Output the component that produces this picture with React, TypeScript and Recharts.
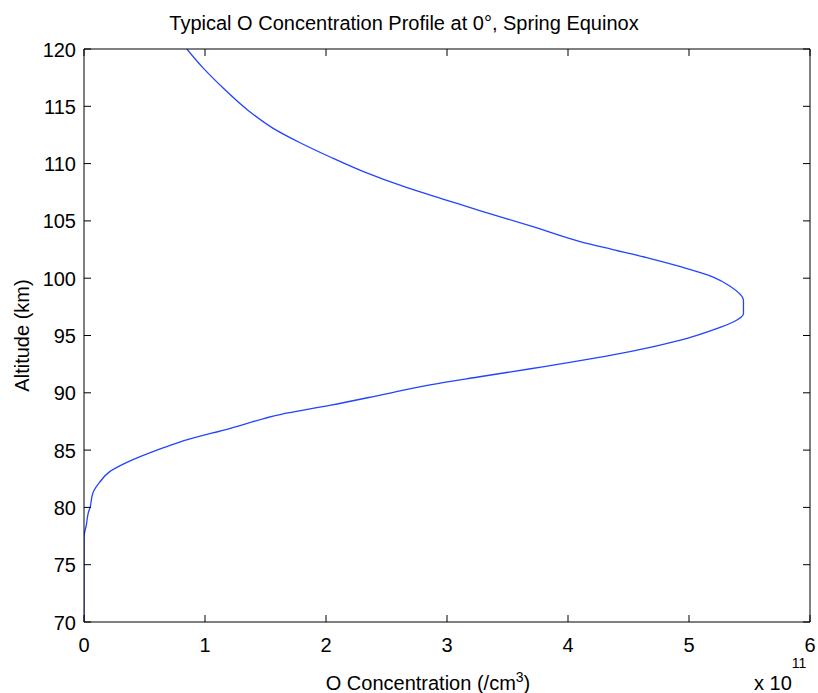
import React from "react";
import { LineChart, Line, XAxis, YAxis, Label } from "recharts";

// altitude (km) and O concentration (x 1e11 /cm3) from bottom to top
const altitudeKm = [
  70, 75, 77.4, 78.5, 79.5, 80, 81.3, 82.2, 83.1, 83.9, 85.1, 85.7, 86.9, 88.1, 88.9, 89.8,
  90.7, 91.4, 92.1, 92.8, 93.3, 93.9, 94.6, 95.5, 96.2, 96.9, 98.1, 99.3, 100.1, 101.0,
  101.8, 102.5, 103.2, 104.5, 105.9, 106.8, 107.9, 109.3, 110.6, 111.8, 113.1, 114.7, 116.6,
  118.4, 120,
];
const oConc = [
  0, 0, 0, 0.02, 0.035, 0.05, 0.075, 0.13, 0.21, 0.35, 0.63, 0.79, 1.21, 1.62, 2.03, 2.45,
  2.86, 3.27, 3.69, 4.1, 4.37, 4.65, 4.93, 5.2, 5.37, 5.45, 5.45, 5.34, 5.2, 4.93,
  4.65, 4.37, 4.1, 3.71, 3.27, 3.0, 2.67, 2.31, 2.03, 1.79, 1.56, 1.35, 1.15,
  0.98, 0.85,
];
const xTicks = [0, 1, 2, 3, 4, 5, 6];
const yTicks = [70, 75, 80, 85, 90, 95, 100, 105, 110, 115, 120];

const rows = altitudeKm.map((alt, i) => ({ alt, conc: oConc[i] }));

const FONT = "'Liberation Sans', Arial, sans-serif";
const TICK_LEN = 7;

const BottomTick = (p: any) => (
  <g>
    <line x1={p.x} y1={p.y} x2={p.x} y2={p.y - TICK_LEN} stroke="#000" />
    <text x={p.x} y={p.y + 30} textAnchor="middle" fontSize={20} fontFamily={FONT} fill="#000">
      {p.payload.value}
    </text>
  </g>
);

const LeftTick = (p: any) => (
  <g>
    <line x1={p.x} y1={p.y} x2={p.x + TICK_LEN} y2={p.y} stroke="#000" />
    <text x={p.x - 8} y={p.y + 7.5} textAnchor="end" fontSize={20} fontFamily={FONT} fill="#000">
      {p.payload.value}
    </text>
  </g>
);

const TopTick = (p: any) => (
  <line x1={p.x} y1={p.y} x2={p.x} y2={p.y + TICK_LEN} stroke="#000" />
);

const RightTick = (p: any) => (
  <line x1={p.x} y1={p.y} x2={p.x - TICK_LEN} y2={p.y} stroke="#000" />
);

const XLabel = (p: any) => {
  const { x, y, width } = p.viewBox;
  return (
    <g fontFamily={FONT} fill="#000">
      <text x={x + width / 2 - 19} y={y + 68} textAnchor="middle" fontSize={20}>
        O Concentration (/cm
        <tspan fontSize={14} dy={-8}>3</tspan>
        <tspan dy={8}>)</tspan>
      </text>
      <text x={x + width - 56} y={y + 68} fontSize={20}>
        x 10
        <tspan fontSize={14} dy={-22}>11</tspan>
      </text>
    </g>
  );
};

const YLabel = (p: any) => {
  const { y, height } = p.viewBox;
  const cx = 22;
  const cy = y + height / 2;
  return (
    <text
      x={cx}
      y={cy}
      transform={`rotate(-90 ${cx} ${cy})`}
      textAnchor="middle"
      dominantBaseline="central"
      fontSize={20}
      fontFamily={FONT}
      fill="#000"
    >
      Altitude (km)
    </text>
  );
};

const Title = (p: any) => {
  const { x, width, y } = p.viewBox;
  return (
    <text x={x + width / 2 - 43} y={y - 18} textAnchor="middle" fontSize={20} fontFamily={FONT} fill="#000">
      Typical O Concentration Profile at 0°, Spring Equinox
    </text>
  );
};

export default function App() {
  return (
    <div style={{ position: "absolute", left: 0, top: 0, background: "#fff" }}>
      <LineChart width={818} height={693} data={rows} margin={{ top: 48, right: 7, bottom: 0, left: 0 }}>
        <XAxis
          dataKey="conc"
          type="number"
          domain={[0, 6]}
          ticks={xTicks}
          allowDataOverflow
          height={71}
          tickSize={0}
          tickMargin={0}
          tickLine={false}
          axisLine={{ stroke: "#000" }}
          tick={<BottomTick />}
          interval={0}
        >
          <Label content={<XLabel />} />
        </XAxis>
        <XAxis
          xAxisId="top"
          orientation="top"
          dataKey="conc"
          type="number"
          domain={[0, 6]}
          ticks={xTicks}
          allowDataOverflow
          height={1}
          tickSize={0}
          tickMargin={0}
          tickLine={false}
          axisLine={{ stroke: "#000" }}
          tick={<TopTick />}
          interval={0}
        >
          <Label content={<Title />} />
        </XAxis>
        <YAxis
          type="number"
          domain={[70, 120]}
          ticks={yTicks}
          allowDataOverflow
          width={84}
          tickSize={0}
          tickMargin={0}
          tickLine={false}
          axisLine={{ stroke: "#000" }}
          tick={<LeftTick />}
          interval={0}
        >
          <Label content={<YLabel />} />
        </YAxis>
        <YAxis
          yAxisId="right"
          orientation="right"
          type="number"
          domain={[70, 120]}
          ticks={yTicks}
          allowDataOverflow
          width={1}
          tickSize={0}
          tickMargin={0}
          tickLine={false}
          axisLine={{ stroke: "#000" }}
          tick={<RightTick />}
          interval={0}
        />
        {/* invisible copy so the mirrored top/right axes get drawn */}
        <Line
          xAxisId="top"
          yAxisId="right"
          dataKey="alt"
          type="monotoneY"
          stroke="none"
          dot={false}
          activeDot={false}
          legendType="none"
          isAnimationActive={false}
        />
        <Line
          dataKey="alt"
          type="monotoneY"
          stroke="#2244ff"
          strokeWidth={1.3}
          dot={false}
          activeDot={false}
          isAnimationActive={false}
        />
      </LineChart>
    </div>
  );
}
